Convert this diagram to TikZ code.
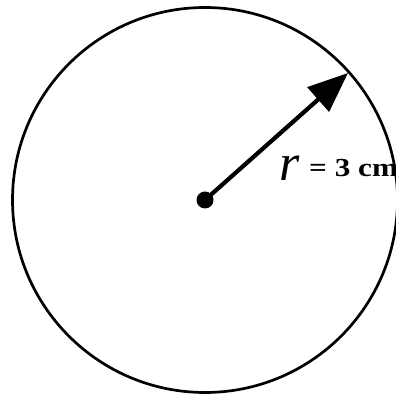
\documentclass[tikz,border=0pt]{standalone}
\usepackage{fontspec}
\setmainfont{Liberation Serif}
\usetikzlibrary{arrows.meta}
\begin{document}
\begin{tikzpicture}[x=1pt,y=1pt,
  rim/.style={line width=2.7pt,draw=black},
  radius arrow/.style={line width=4.2pt,-{Triangle[length=40pt,width=32pt]}},
  label text/.style={inner sep=0pt,anchor=base west}]
\useasboundingbox (0,0) rectangle (396,395);
\coordinate (o) at (205,195);
\draw[rim] (o) circle[radius=192.5];
\coordinate (p) at (348,322);
\draw[radius arrow] (o) -- (p);
\fill (o) circle[radius=8.5];
\node[label text] (rsym) at (279,214) {\fontsize{52}{52}\selectfont\itshape r};
\node[label text] (rval) at (309,218) {\scalebox{1.2}[1]{\fontsize{26}{26}\selectfont\bfseries = 3 cm}};
\end{tikzpicture}
\end{document}
